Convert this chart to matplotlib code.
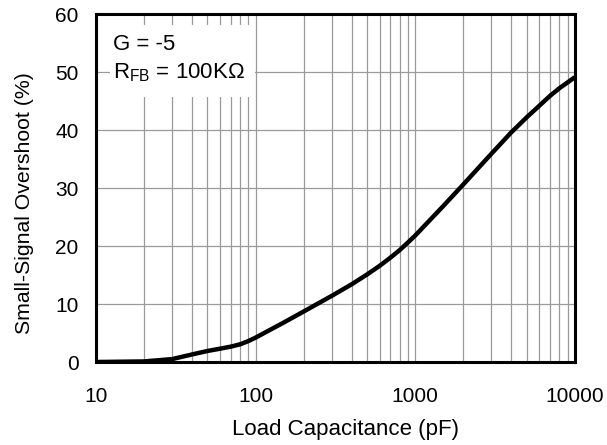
import matplotlib
matplotlib.use("Agg")
import matplotlib.pyplot as plt
from matplotlib.ticker import LogLocator, FixedLocator, NullFormatter
from matplotlib.patches import Rectangle

plt.rcParams['font.family'] = ['Liberation Sans', 'DejaVu Sans']

cap_pf = [10, 20, 30, 40, 50, 60, 70, 80, 90, 100, 150, 200, 300, 400, 500, 600,
          700, 800, 900, 1000, 1500, 2000, 3000, 4000, 5000, 6000, 7000, 8000,
          9000, 10000]
overshoot = [0, 0.1, 0.5, 1.3, 1.9, 2.3, 2.65, 3.05, 3.6, 4.2, 6.8, 8.7, 11.4,
             13.4, 15.1, 16.6, 18.0, 19.3, 20.6, 21.8, 26.9, 30.6, 35.9, 39.6,
             42.2, 44.2, 45.9, 47.2, 48.2, 49.1]
x_ticks = [10, 100, 1000, 10000]
x_labels = ["10", "100", "1000", "10000"]
y_ticks = [0, 10, 20, 30, 40, 50, 60]

fig = plt.figure(figsize=(6.07, 4.45), dpi=100)
ax = fig.add_axes([0.158, 0.1865, 0.789, 0.782])
ax.set_xscale('log')
ax.set_xlim(10, 10000)
ax.set_ylim(0, 60)

ax.xaxis.set_major_locator(FixedLocator(x_ticks))
ax.set_xticks(x_ticks)
ax.set_xticklabels(x_labels)
ax.xaxis.set_minor_locator(LogLocator(base=10, subs=range(2, 10)))
ax.xaxis.set_minor_formatter(NullFormatter())
ax.set_yticks(y_ticks)

ax.grid(True, which='both', axis='x', color='#9a9a9a', linewidth=0.9, zorder=0)
ax.grid(True, which='major', axis='y', color='#9a9a9a', linewidth=0.9, zorder=0)
ax.set_axisbelow(True)

ax.tick_params(which='both', length=0, labelsize=15)
ax.tick_params(axis='x', pad=18)
ax.tick_params(axis='y', pad=12.5)

for s in ax.spines.values():
    s.set_linewidth(2.2)
    s.set_zorder(5)

ax.plot(cap_pf, overshoot, color='black', linewidth=3.2, solid_capstyle='butt',
        solid_joinstyle='round', zorder=4)

ax.add_patch(Rectangle((0.029, 0.761), 0.303, 0.207, transform=ax.transAxes,
                       facecolor='white', edgecolor='none', zorder=2))
ax.text(0.0355, 0.897, "G = -5", transform=ax.transAxes, fontsize=16,
        va='baseline', ha='left', zorder=3)
ax.text(0.0355, 0.816, r"R$_{\mathregular{FB}}$ = 100KΩ", transform=ax.transAxes,
        fontsize=16, va='baseline', ha='left', zorder=3)

ax.set_xlabel("Load Capacitance (pF)", fontsize=16, labelpad=9)
ax.set_ylabel("Small-Signal Overshoot (%)", fontsize=15.3, labelpad=15)
ax.xaxis.label.set_x(0.522)
ax.yaxis.label.set_y(0.457)

fig.savefig("out.png", dpi=100)
